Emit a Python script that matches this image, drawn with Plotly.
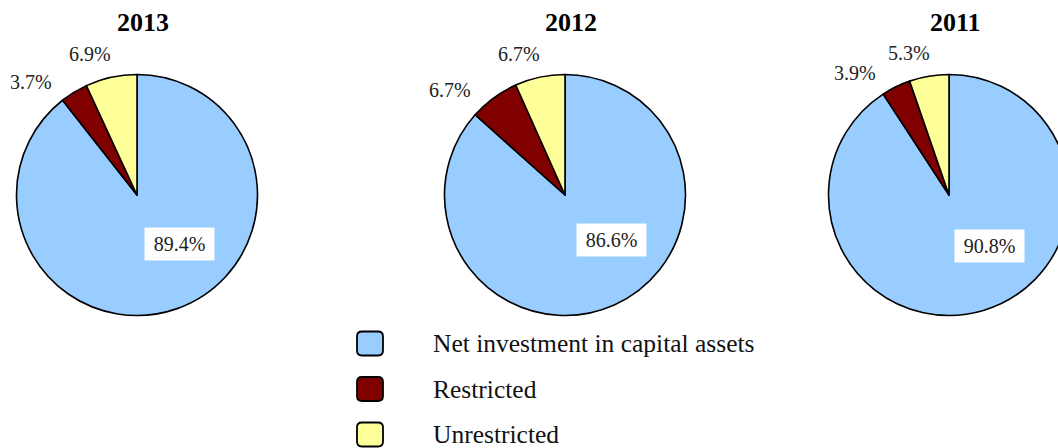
import math
import plotly.graph_objects as go

# Net position composition by fiscal year (percent of total)
years = ["2013", "2012", "2011"]
categories = ["Net investment in capital assets", "Restricted", "Unrestricted"]
net_investment = [89.4, 86.6, 90.8]
restricted = [3.7, 6.7, 3.9]
unrestricted = [6.9, 6.7, 5.3]
colors = ["#99CCFF", "#800000", "#FFFF99"]

# Canvas (slightly wider than the viewport so the right pie runs off the edge)
W, H = 1090, 448
FONT = "Liberation Serif"
centers_x = [137, 565, 949]
center_y = 195
radius = 120.5

# angular nudge (degrees) for the outside labels of the two small slices
outside_shift = {1: -11.6, 2: -6.0}


def px(x):
    return x / W


def py(y):
    return 1 - y / H


fig = go.Figure()
annotations = []

for i, year in enumerate(years):
    vals = [net_investment[i], restricted[i], unrestricted[i]]
    cx = centers_x[i]
    fig.add_trace(go.Pie(
        labels=categories,
        values=vals,
        sort=False,
        direction="clockwise",
        rotation=0,
        marker=dict(colors=colors, line=dict(color="black", width=1.6)),
        textinfo="none",
        hoverinfo="label+percent",
        showlegend=False,
        domain=dict(x=[px(cx - radius), px(cx + radius)],
                    y=[py(center_y + radius), py(center_y - radius)]),
        name=year,
    ))

    # Year heading
    annotations.append(dict(
        x=px(cx + 6), y=py(22), xref="paper", yref="paper",
        text="<b>%s</b>" % year, showarrow=False,
        font=dict(family=FONT, size=26, color="black"),
        xanchor="center", yanchor="middle",
    ))

    # Percentage labels placed from each slice's angular span
    total = sum(vals)
    start = 0.0
    for j, v in enumerate(vals):
        mid = (start + v / 2) / total * 360.0
        start += v
        label = "%.1f%%" % v
        if j == 0:
            ang = math.radians(mid - 22)
            d = 0.54 * radius
            lx = cx + d * math.sin(ang)
            ly = center_y - d * math.cos(ang)
            annotations.append(dict(
                x=px(lx), y=py(ly), xref="paper", yref="paper",
                text=label, showarrow=False,
                font=dict(family=FONT, size=20, color="#222222"),
                bgcolor="white", width=67, height=30, borderpad=1,
                xanchor="center", yanchor="middle",
            ))
        else:
            ang = math.radians(mid + outside_shift[j])
            s, c = math.sin(ang), math.cos(ang)
            extent = abs(s) * 21 + abs(c) * 7
            d = radius + 15 + extent
            lx = cx + d * s
            ly = center_y - d * c
            annotations.append(dict(
                x=px(lx), y=py(ly), xref="paper", yref="paper",
                text=label, showarrow=False,
                font=dict(family=FONT, size=20, color="#222222"),
                xanchor="center", yanchor="middle",
            ))


def rounded_rect(x0, y0, x1, y1, rr):
    # path in paper coordinates built from pixel corners
    pts = [
        ("M", x0 + rr, y0), ("L", x1 - rr, y0), ("Q", x1, y0, x1, y0 + rr),
        ("L", x1, y1 - rr), ("Q", x1, y1, x1 - rr, y1), ("L", x0 + rr, y1),
        ("Q", x0, y1, x0, y1 - rr), ("L", x0, y0 + rr), ("Q", x0, y0, x0 + rr, y0),
    ]
    out = []
    for p in pts:
        cmd = p[0]
        coords = p[1:]
        seg = []
        for k in range(0, len(coords), 2):
            seg.append("%.5f,%.5f" % (px(coords[k]), py(coords[k + 1])))
        out.append(cmd + " ".join(seg))
    return " ".join(out) + " Z"


# Legend: swatches and labels
shapes = []
legend_y = [343.5, 389, 434.5]
for k, name in enumerate(categories):
    yc = legend_y[k]
    shapes.append(dict(
        type="path", xref="paper", yref="paper",
        path=rounded_rect(357, yc - 12, 383, yc + 12, 5),
        fillcolor=colors[k], line=dict(color="black", width=1.8),
    ))
    annotations.append(dict(
        x=px(431), y=py(yc), xref="paper", yref="paper",
        text=name, showarrow=False,
        font=dict(family=FONT, size=25.5, color="#111111"),
        xanchor="left", yanchor="middle",
    ))

fig.update_layout(
    width=W, height=H,
    margin=dict(l=0, r=0, t=0, b=0),
    paper_bgcolor="white", plot_bgcolor="white",
    annotations=annotations,
    shapes=shapes,
)

fig.write_html(
    "out.html",
    post_script="document.body.style.margin='0';document.body.style.overflow='hidden';",
)
